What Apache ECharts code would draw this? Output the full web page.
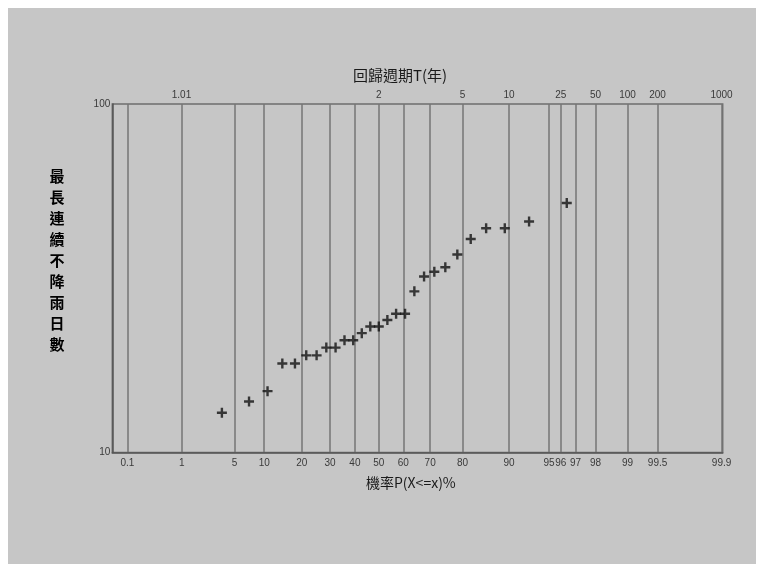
<!DOCTYPE html>
<html>
<head>
<meta charset="utf-8">
<script src="https://cdn.jsdelivr.net/npm/echarts@6/dist/echarts.min.js"></script>
<style>
  html, body { margin: 0; padding: 0; background: #ffffff; }
  #chart { position: absolute; left: 8px; top: 8px; width: 748px; height: 556px; background: #c6c6c6; }
</style>
</head>
<body>
<div id="chart"></div>
<script>
// ---- data ----
// non-exceedance probability (%) of each ranked observation
const probPct = [3.57, 7.14, 10.71, 14.29, 17.86, 21.43, 25.00, 28.57, 32.14, 35.71, 39.29, 42.86, 46.43, 50.00,
                 53.57, 57.14, 60.71, 64.29, 67.86, 71.43, 75.00, 78.57, 82.14, 85.71, 89.29, 92.86, 96.43];
// longest run of consecutive dry days
const days = [13, 14, 15, 18, 18, 19, 19, 20, 20, 21, 21, 22, 23, 23, 24, 25, 25, 29, 32, 33, 34, 37, 41, 44, 44, 46, 52];
// bottom probability tick labels (%)
const probTicks = ['0.1', '1', '5', '10', '20', '30', '40', '50', '60', '70', '80', '90', '95', '96', '97', '98', '99', '99.5', '99.9'];
// top return-period tick labels (years)
const returnPeriods = ['1.01', '2', '5', '10', '25', '50', '100', '200', '1000'];
// y axis (log) range
const yMin = 10, yMax = 100;
// probability range covered by the plot frame
const pFrameMin = 0.00046, pFrameMax = 0.99903;

// ---- probability-paper scale (Pearson III frequency factor, skew 0.3) ----
const skew = 0.3;
function normInv(p) {
  const a = [-3.969683028665376e+01, 2.209460984245205e+02, -2.759285104469687e+02, 1.383577518672690e+02, -3.066479806614716e+01, 2.506628277459239e+00];
  const b = [-5.447609879822406e+01, 1.615858368580409e+02, -1.556989798598866e+02, 6.680131188771972e+01, -1.328068155288572e+01];
  const c = [-7.784894002430293e-03, -3.223964580411365e-01, -2.400758277161838e+00, -2.549671010319074e+00, 4.374664141464968e+00, 2.938163982698783e+00];
  const d = [7.784695709041462e-03, 3.224671290700398e-01, 2.445134137142996e+00, 3.754408661907416e+00];
  const pl = 0.02425, ph = 1 - pl;
  let q, r;
  if (p < pl) {
    q = Math.sqrt(-2 * Math.log(p));
    return (((((c[0] * q + c[1]) * q + c[2]) * q + c[3]) * q + c[4]) * q + c[5]) / ((((d[0] * q + d[1]) * q + d[2]) * q + d[3]) * q + 1);
  }
  if (p <= ph) {
    q = p - 0.5; r = q * q;
    return (((((a[0] * r + a[1]) * r + a[2]) * r + a[3]) * r + a[4]) * r + a[5]) * q / (((((b[0] * r + b[1]) * r + b[2]) * r + b[3]) * r + b[4]) * r + 1);
  }
  q = Math.sqrt(-2 * Math.log(1 - p));
  return -(((((c[0] * q + c[1]) * q + c[2]) * q + c[3]) * q + c[4]) * q + c[5]) / ((((d[0] * q + d[1]) * q + d[2]) * q + d[3]) * q + 1);
}
function K(p) {
  const z = normInv(p);
  const g = skew;
  return (2 / g) * (Math.pow(1 + g * z / 6 - g * g / 36, 3) - 1);
}

const bottomVals = probTicks.map(s => K(parseFloat(s) / 100));
const bottomMap = {};
bottomVals.forEach((v, i) => { bottomMap[v.toFixed(6)] = probTicks[i]; });
const topVals = returnPeriods.map(s => K(1 - 1 / parseFloat(s)));
const topMap = {};
topVals.forEach((v, i) => { topMap[v.toFixed(6)] = returnPeriods[i]; });

const points = probPct.map((p, i) => [K(p / 100), days[i]]);

const labelFont = { fontFamily: 'Liberation Sans', fontSize: 10, color: '#3a3a3a' };
const cjkFont = 'Noto Sans CJK TC';

const chart = echarts.init(document.getElementById('chart'), null, { renderer: 'canvas' });
chart.setOption({
  animation: false,
  backgroundColor: '#c6c6c6',
  grid: {
    left: 104.3, top: 96, width: 610.4, height: 348.5,
    show: true, backgroundColor: 'transparent', borderColor: '#6e6e6e', borderWidth: 1.5
  },
  xAxis: [
    {
      type: 'value', position: 'bottom', min: K(pFrameMin), max: K(pFrameMax),
      axisLine: { show: true, onZero: false, lineStyle: { color: '#555', width: 1.5 } },
      axisTick: { show: false, customValues: bottomVals },
      splitLine: { show: true, lineStyle: { color: '#747474', width: 1.5 } },
      axisLabel: Object.assign({
        customValues: bottomVals, margin: 6,
        formatter: v => bottomMap[v.toFixed(6)] || ''
      }, labelFont)
    },
    {
      type: 'value', position: 'top', min: K(pFrameMin), max: K(pFrameMax),
      axisLine: { show: false, onZero: false },
      axisTick: { show: false, customValues: topVals },
      splitLine: { show: false },
      axisLabel: Object.assign({
        customValues: topVals, margin: 4,
        formatter: v => topMap[v.toFixed(6)] || ''
      }, labelFont)
    }
  ],
  yAxis: {
    type: 'log', logBase: 10, min: yMin, max: yMax,
    axisLine: { show: true, onZero: false, lineStyle: { color: '#555', width: 1.5 } },
    axisTick: { show: false },
    splitLine: { show: false },
    minorTick: { show: false },
    axisLabel: Object.assign({ margin: 2 }, labelFont)
  },
  series: [{
    type: 'scatter',
    xAxisIndex: 0,
    data: points,
    symbol: 'path://M3.8,0L6.2,0L6.2,3.8L10,3.8L10,6.2L6.2,6.2L6.2,10L3.8,10L3.8,6.2L0,6.2L0,3.8L3.8,3.8Z',
    symbolSize: 10,
    itemStyle: { color: '#111' },
    z: 5
  }],
  graphic: [
    {
      type: 'text', left: 410 - 8 - 57, top: 68 - 8,
      style: { text: '回歸週期T(年)', font: '15px "' + cjkFont + '"', fill: '#1a1a1a' }
    },
    {
      type: 'text', left: 366 - 8, top: 476 - 8,
      style: { text: '機率P(X<=x)%', font: '14px "' + cjkFont + '"', fill: '#1a1a1a' }
    },
    {
      type: 'text', x: 57 - 8, y: 166 - 8,
      style: {
        text: ['最', '長', '連', '續', '不', '降', '雨', '日', '數'].join('\n'),
        font: 'bold 15px "' + cjkFont + '"', fill: '#000', align: 'center', verticalAlign: 'top', lineHeight: 21
      }
    }
  ]
});
</script>
</body>
</html>
